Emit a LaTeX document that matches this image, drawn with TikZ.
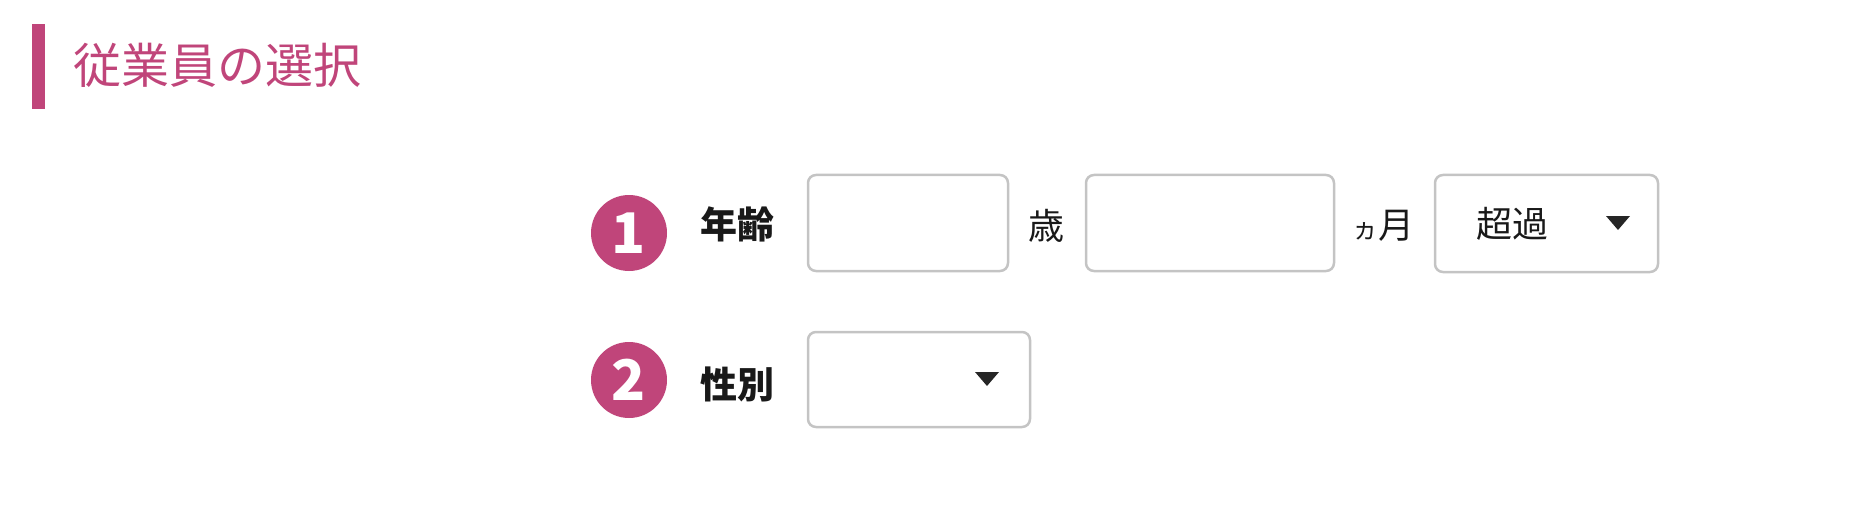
\documentclass[tikz,border=0pt]{standalone}
\usepackage{fontspec}
\setmainfont{Noto Sans CJK JP}
\definecolor{rose}{HTML}{C0457A}
\definecolor{frame}{HTML}{C4C4C4}
\tikzset{
  field/.style={draw=frame, line width=2.5pt, rounded corners=8pt},
  badge/.style={circle, fill=rose, text=white, minimum size=76pt, inner sep=0pt, font=\fontsize{56}{56}\selectfont\bfseries},
  label/.style={font=\fontsize{37}{37}\selectfont\bfseries, text=black!90},
  plain/.style={font=\fontsize{36}{36}\selectfont, text=black!90},
  caret/.style={fill=black!85}
}
\begin{document}
\begin{tikzpicture}[x=1pt,y=-1pt]
\useasboundingbox (0,0) rectangle (1864,508);
% heading
\fill[rose] (32,24) rectangle (45,109);
\node[anchor=west, text=rose, font=\fontsize{48}{48}\selectfont] (title) at (70,65) {従業員の選択};
% row 1
\node[badge] (one) at (629,233) {1};
\node[label] (age) at (737,224) {年齢};
\draw[field] (808,175) rectangle (1008,271);
\node[plain] (years) at (1046,226) {歳};
\draw[field] (1086,175) rectangle (1334,271);
\node[plain] (months) at (1383,226) {\fontsize{26}{26}\selectfont ヵ\fontsize{36}{36}\selectfont 月};
\draw[field] (1435,175) rectangle (1658,272);
\node[plain] (over) at (1512,224) {超過};
\fill[caret] (1606,216) -- (1630,216) -- (1618,230) -- cycle;
% row 2
\node[badge] (two) at (629,380) {2};
\node[label] (sex) at (737,384) {性別};
\draw[field] (808,332) rectangle (1030,427);
\fill[caret] (975,372) -- (999,372) -- (987,386) -- cycle;
\end{tikzpicture}
\end{document}
